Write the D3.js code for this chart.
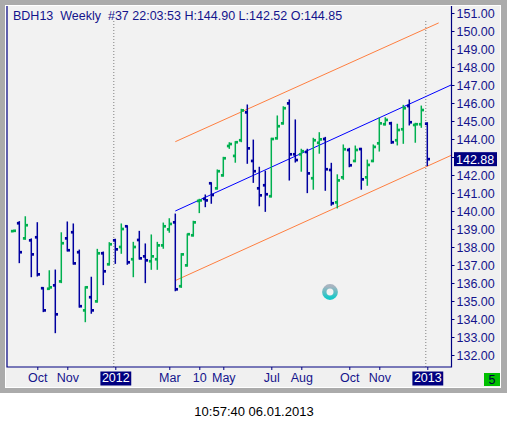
<!DOCTYPE html>
<html>
<head>
<meta charset="utf-8">
<script src="https://cdn.jsdelivr.net/npm/d3@7"></script>
<style>
  body { margin: 0; background: #ffffff; }
  text { font-family: "Liberation Sans", Arial, sans-serif; }
</style>
</head>
<body>
<div id="chart"></div>
<script>
// weekly OHLC bars, Sep 2011 - Jan 2013
const opens  = [138.88,139.32,138.48,138.37,138.54,135.71,135.68,135.87,136.09,138.48,
                138.82,137.71,134.48,135.21,134.98,137.65,137.04,138.37,138.00,139.15,
                137.32,138.39,137.48,137.21,137.32,138.09,138.98,139.37,135.82,136.98,
                138.65,140.56,140.67,141.54,141.26,141.98,143.61,143.06,143.93,145.48,
                142.78,141.26,141.43,140.82,144.04,144.87,145.98,143.15,143.15,143.28,
                141.82,143.79,144.00,142.28,140.48,141.87,143.39,142.78,143.44,141.87,
                142.78,143.76,144.82,144.87,143.93,144.54,145.83,144.78,144.82,144.85];
const highs  = [138.92,139.41,139.68,138.45,139.35,135.74,136.68,136.72,138.79,139.39,
                139.28,137.83,135.79,136.32,137.87,137.72,138.24,138.43,139.28,139.17,
                138.26,138.87,138.17,138.67,138.26,139.33,139.57,139.83,137.63,138.72,
                139.43,140.65,140.89,141.56,142.28,142.98,143.79,143.85,145.65,145.89,
                143.94,142.43,142.21,144.04,145.28,145.79,146.17,145.06,143.43,143.43,
                144.04,144.35,144.09,142.65,142.01,143.67,143.48,143.61,143.48,142.83,
                143.67,145.17,145.18,144.93,144.82,145.87,146.17,144.87,145.83,144.90];
const lows   = [138.86,137.13,138.43,136.35,136.39,134.41,135.65,133.24,136.02,137.78,
                137.05,134.66,133.85,134.32,134.94,135.91,137.00,137.09,137.65,137.04,
                136.35,137.33,136.02,136.76,136.76,137.93,138.82,135.57,135.76,136.94,
                138.61,139.91,140.24,140.43,141.22,141.94,143.48,142.71,143.85,142.65,
                141.59,140.29,139.98,140.78,144.00,144.83,141.72,142.72,142.21,141.02,
                141.21,143.21,141.15,140.32,140.17,141.76,142.46,142.74,141.21,141.43,
                142.74,143.33,144.78,143.76,143.67,143.76,144.78,143.82,144.65,142.52];
const closes = [138.90,137.71,139.21,137.59,136.48,134.48,135.76,134.26,138.21,137.82,
                137.09,134.71,135.76,134.48,137.65,136.65,138.15,137.87,139.00,137.15,
                138.00,137.37,137.26,137.48,138.09,139.15,139.28,135.65,137.59,138.71,
                139.37,140.59,140.59,140.89,142.21,142.93,143.72,143.82,145.59,143.48,
                142.21,140.87,140.93,144.00,144.71,145.71,143.15,142.83,143.32,142.09,
                143.93,143.98,142.32,140.43,141.70,143.43,142.54,143.39,141.76,142.56,
                143.56,144.87,145.06,143.82,144.50,145.71,144.93,144.82,145.61,142.88];

// x axis labels, placed at bar index
const tickBars   = [4, 9, 17, 26, 31, 35, 43, 48, 56, 61, 69];
const tickLabels = ['Oct', 'Nov', '2012', 'Mar', '10', 'May', 'Jul', 'Aug', 'Oct', 'Nov', '2013'];
const yearBars   = [17, 69];

// regression channel: [bar index, price]
const midLine   = [[27, 140.00], [73.1, 147.02]];
const upperLine = [[27, 143.85], [70.9, 150.45]];
const lowerLine = [[27.1, 136.15], [73.1, 143.11]];

const priceTicks = d3.range(132, 152, 1);
const lastPrice = 142.88;

const config_size = {
  svg_width: 507,
  svg_height: 429,
  plot: { left: 7, right: 451.5, top: 6, bottom: 367 },
};

const navy = '#0000a0';
const green = '#00b050';
const labelColor = '#14148c';

d3.select('#chart').select('svg').remove();
const svg = d3.select('#chart').append('svg')
  .attr('width', config_size.svg_width)
  .attr('height', config_size.svg_height);

// window frame
svg.append('rect').attr('x', 0).attr('y', 0).attr('width', 507).attr('height', 393).attr('fill', '#ababab');
svg.append('rect').attr('x', 5).attr('y', 5).attr('width', 496).attr('height', 383).attr('fill', '#ffffff');
svg.append('rect').attr('x', 6).attr('y', 6).attr('width', 494).attr('height', 381).attr('fill', '#f0f0f0');

const p = config_size.plot;
svg.append('rect')
  .attr('x', p.left).attr('y', p.top)
  .attr('width', p.right - p.left).attr('height', p.bottom - p.top)
  .attr('fill', '#f2f2f2');

const x = d3.scaleLinear().domain([0, 69]).range([13.3, 427.3]);
const y = d3.scaleLinear().domain([132, 151]).range([355, 13]);

const plot_g = svg.append('g').classed('plot', true);

// year separators
plot_g.selectAll('line.year').data(yearBars).enter().append('line')
  .attr('class', 'year')
  .attr('x1', d => x(d) - 1.5).attr('x2', d => x(d) - 1.5)
  .attr('y1', 21).attr('y2', p.bottom)
  .attr('stroke', '#808080').attr('stroke-width', 1)
  .attr('stroke-dasharray', '1,2');

// channel lines
const chLine = d3.line().x(d => x(d[0])).y(d => y(d[1]));
plot_g.append('path').datum(upperLine).attr('d', chLine)
  .attr('fill', 'none').attr('stroke', '#ff7f40').attr('stroke-width', 1);
plot_g.append('path').datum(lowerLine).attr('d', chLine)
  .attr('fill', 'none').attr('stroke', '#ff7f40').attr('stroke-width', 1);
plot_g.append('path').datum(midLine).attr('d', chLine)
  .attr('fill', 'none').attr('stroke', '#0000ff').attr('stroke-width', 1);

// OHLC bars
const bars = opens.map((o, i) => ({ i: i, o: o, h: highs[i], l: lows[i], c: closes[i] }));
const bar_g = plot_g.selectAll('g.bar').data(bars).enter().append('g')
  .attr('class', 'bar')
  .attr('fill', d => d.c >= d.o ? green : navy)
  .attr('stroke', d => d.c >= d.o ? green : navy);
bar_g.append('line')
  .attr('x1', d => x(d.i)).attr('x2', d => x(d.i))
  .attr('y1', d => y(d.h) - 0.5).attr('y2', d => y(d.l) + 0.5)
  .attr('stroke-width', 1.5);
bar_g.append('rect')
  .attr('x', d => x(d.i) - 2.4).attr('y', d => y(d.o) - 1.35)
  .attr('width', 2.7).attr('height', 2.7).attr('stroke', 'none');
bar_g.append('rect')
  .attr('x', d => x(d.i)).attr('y', d => y(d.c) - 1.35)
  .attr('width', 2.7).attr('height', 2.7).attr('stroke', 'none');

// axis frame lines
svg.append('path')
  .attr('d', `M${p.left},${p.top}V${p.bottom}H${p.right}V${p.top}`)
  .attr('fill', 'none').attr('stroke', '#000080').attr('stroke-width', 1.2);

// right price axis
const yAxis = svg.append('g')
  .attr('transform', `translate(${p.right},0)`)
  .call(d3.axisRight(y).tickValues(priceTicks).tickSize(3).tickPadding(2).tickFormat(d3.format('.2f')));
yAxis.select('.domain').remove();
yAxis.selectAll('line').attr('stroke', '#000080');
yAxis.selectAll('text')
  .attr('fill', labelColor).style('font-size', '12.5px')
  .style('font-family', '"Liberation Sans", Arial, sans-serif');
// the last price box hides the label it sits on
yAxis.selectAll('.tick').filter(d => Math.abs(d - lastPrice) < 0.8).select('text').remove();

// last price marker
const lp = svg.append('g').attr('transform', `translate(${p.right},${y(lastPrice)})`);
lp.append('rect').attr('x', 2.5).attr('y', -7).attr('width', 43).attr('height', 14).attr('fill', '#000080');
lp.append('text').attr('x', 4.5).attr('dy', '0.36em')
  .attr('fill', '#ffffff').style('font-size', '12.5px')
  .text(d3.format('.2f')(lastPrice));

// bottom time axis
const xAxis = svg.append('g')
  .attr('transform', `translate(0,${p.bottom})`)
  .call(d3.axisBottom(x).tickValues(tickBars).tickSize(3).tickPadding(3)
    .tickFormat((d, k) => tickLabels[k]));
xAxis.select('.domain').remove();
xAxis.selectAll('line').attr('stroke', '#000080');
xAxis.selectAll('text')
  .attr('fill', labelColor).style('font-size', '12.5px')
  .style('font-family', '"Liberation Sans", Arial, sans-serif');
xAxis.selectAll('.tick').filter(d => yearBars.includes(d)).each(function() {
  const g = d3.select(this);
  const t = g.select('text').attr('fill', '#ffffff');
  const bb = t.node().getBBox();
  g.insert('rect', 'text')
    .attr('x', bb.x - 1.5).attr('y', 4.5)
    .attr('width', bb.width + 3).attr('height', 14)
    .attr('fill', '#000080');
});

// header line
svg.append('text')
  .attr('x', 13).attr('y', 19.5)
  .attr('fill', labelColor)
  .style('font-size', '12.5px').style('white-space', 'pre')
  .text('BDH13  Weekly  #37 22:03:53 H:144.90 L:142.52 O:144.85');

// small green counter box
svg.append('rect').attr('x', 484).attr('y', 373).attr('width', 16).attr('height', 13).attr('fill', '#00c000');
svg.append('text').attr('x', 492).attr('y', 384).attr('text-anchor', 'middle')
  .attr('fill', '#000040').style('font-size', '12.5px').text('5');

// busy indicator
const grad = svg.append('defs').append('linearGradient')
  .attr('id', 'spin').attr('x1', 0).attr('y1', 0).attr('x2', 0).attr('y2', 1);
grad.append('stop').attr('offset', '0%').attr('stop-color', '#a8b4c0');
grad.append('stop').attr('offset', '100%').attr('stop-color', '#18c8c8');
svg.append('circle').attr('cx', 330).attr('cy', 292).attr('r', 5.7)
  .attr('fill', 'none').attr('stroke', 'url(#spin)').attr('stroke-width', 4.4);

// timestamp under the window
svg.append('text')
  .attr('x', 254).attr('y', 416).attr('text-anchor', 'middle')
  .attr('fill', '#000000').style('font-size', '13px')
  .text('10:57:40 06.01.2013');
</script>
</body>
</html>
